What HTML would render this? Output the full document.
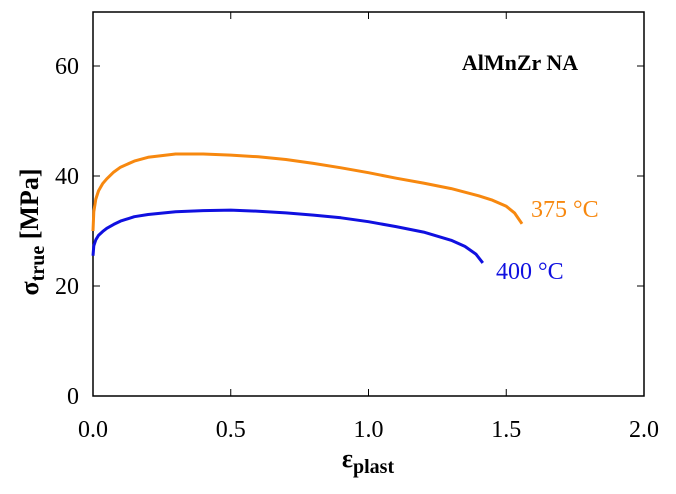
<!DOCTYPE html>
<html><head><meta charset="utf-8"><style>
body{margin:0;background:#fff}
text{font-family:"Liberation Serif",serif}
</style></head><body>
<svg id="chart" width="676" height="489" xmlns="http://www.w3.org/2000/svg">
<rect x="93" y="12" width="551" height="384" fill="none" stroke="#000" stroke-width="1.5"/>
<g id="ticks"></g>
<g id="series"></g>
<text x="520" y="70" font-size="22" font-weight="bold" text-anchor="middle">AlMnZr NA</text>
<text x="531" y="217" font-size="24" fill="#f7880f">375 °C</text>
<text x="496" y="279" font-size="24" fill="#1010e0">400 °C</text>
<text transform="translate(38,232) rotate(-90)" font-size="26" font-weight="bold" text-anchor="middle">σ<tspan font-size="20" dy="6">true</tspan><tspan dy="-6"> [MPa]</tspan></text>
<text x="368" y="467" font-size="26" font-weight="bold" text-anchor="middle">ε<tspan font-size="20" dy="6">plast</tspan></text>
</svg>
<script>
const xTicks=[0,0.5,1.0,1.5,2.0];
const xTickLabels=["0.0","0.5","1.0","1.5","2.0"];
const yTicks=[0,20,40,60];
const yTickLabels=["0","20","40","60"];
const strain375=[0,0.003,0.01,0.02,0.035,0.05,0.075,0.1,0.15,0.2,0.3,0.4,0.5,0.6,0.7,0.8,0.9,1.0,1.1,1.2,1.3,1.4,1.45,1.5,1.53,1.557];
const stress375=[30,33.5,35.8,37.3,38.6,39.5,40.7,41.6,42.7,43.4,44,44,43.8,43.5,43,42.3,41.5,40.6,39.6,38.7,37.7,36.4,35.6,34.5,33.3,31.3];
const strain400=[0,0.003,0.01,0.02,0.035,0.05,0.075,0.1,0.15,0.2,0.3,0.4,0.5,0.6,0.7,0.8,0.9,1.0,1.1,1.2,1.3,1.35,1.39,1.415];
const stress400=[25.5,27.3,28.4,29.2,29.9,30.5,31.2,31.8,32.6,33,33.5,33.7,33.8,33.6,33.3,32.9,32.4,31.7,30.8,29.8,28.3,27.2,25.8,24.2];
const NS="http://www.w3.org/2000/svg";
const X=v=>93+v*275.5, Y=v=>396-v*5.5;
const tg=document.getElementById('ticks');
function mk(t,a,p){const e=document.createElementNS(NS,t);for(const k in a)e.setAttribute(k,a[k]);p.appendChild(e);return e;}
xTicks.forEach((v,i)=>{
 const t1=mk('line',{x1:X(v),x2:X(v),y1:396,y2:389,stroke:'#000'},tg);
 
 
 const t2=mk('line',{x1:X(v),x2:X(v),y1:12,y2:19,stroke:'#000'},tg);
 
 
 const l=mk('text',{x:X(v),y:437,'font-size':24,'text-anchor':'middle'},tg);l.textContent=xTickLabels[i];
 
 
});
yTicks.forEach((v,i)=>{
 const t1=mk('line',{x1:93,x2:100,y1:Y(v),y2:Y(v),stroke:'#000'},tg);
 
 
 const t2=mk('line',{x1:644,x2:637,y1:Y(v),y2:Y(v),stroke:'#000'},tg);
 
 
 const l=mk('text',{x:79,y:Y(v)+8,'font-size':24,'text-anchor':'end'},tg);l.textContent=yTickLabels[i];
 
 
});
const sg=document.getElementById('series');
function line(xs,ys,c,name){
 const d=xs.map((x,i)=>(i?'L':'M')+X(x).toFixed(1)+','+Y(ys[i]).toFixed(1)).join('');
 const p=mk('path',{d:d,fill:'none',stroke:c,'stroke-width':3,'stroke-linejoin':'round'},sg);
 
 
}
line(strain375,stress375,'#f7880f','curve-375c');
line(strain400,stress400,'#1010e0','curve-400c');
</script>
</body></html>
